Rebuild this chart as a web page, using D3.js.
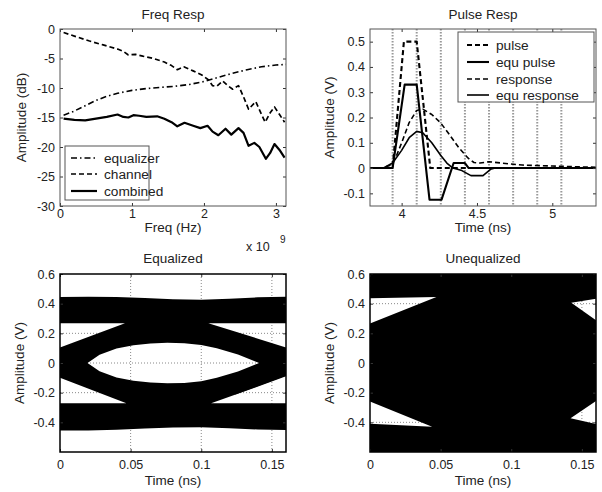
<!DOCTYPE html>
<html>
<head>
<meta charset="utf-8">
<script src="https://cdn.jsdelivr.net/npm/d3@7"></script>
<style>
body { margin: 0; background: #fff; }
svg { font-family: "Liberation Sans", Arial, sans-serif; }
</style>
</head>
<body>
<div id="chart"></div>
<script>
// ---- data ----
var freqTicks = [0, 1, 2, 3];
var dbTicks = [0, -5, -10, -15, -20, -25, -30];
var timeTicks = [4, 4.5, 5];
var voltTicks = [-0.1, 0, 0.1, 0.2, 0.3, 0.4, 0.5];
var eyeTimeTicks = [0, 0.05, 0.1, 0.15];
var eyeVoltTicks = [-0.4, -0.2, 0, 0.2, 0.4, 0.6];

// Freq Resp (GHz, dB)
var equalizer = [[0.05,-14.6],[0.2,-13.9],[0.35,-13.0],[0.5,-12.1],[0.65,-11.4],[0.8,-10.9],[1.0,-10.4],[1.2,-10.1],
  [1.4,-9.9],[1.6,-9.7],[1.8,-9.4],[2.0,-8.9],[2.2,-8.2],[2.4,-7.5],[2.6,-6.9],[2.8,-6.4],[3.0,-6.1],[3.14,-6.0]];
var channel = [[0.05,-0.6],[0.2,-1.2],[0.4,-2.0],[0.6,-2.7],[0.8,-3.4],[0.88,-3.8],[0.95,-4.4],[1.05,-4.3],[1.15,-4.6],
  [1.3,-5.0],[1.45,-5.6],[1.55,-6.2],[1.63,-6.9],[1.72,-6.4],[1.85,-7.1],[1.97,-7.8],[2.06,-8.6],[2.12,-9.6],[2.18,-9.7],
  [2.26,-8.8],[2.33,-9.6],[2.4,-10.2],[2.48,-9.6],[2.55,-11.5],[2.62,-13.6],[2.72,-12.3],[2.8,-14.5],[2.85,-15.8],
  [2.92,-14.2],[2.98,-13.2],[3.05,-14.5],[3.12,-15.8]];
var combined = [[0.05,-15.2],[0.2,-15.4],[0.35,-15.5],[0.5,-15.2],[0.65,-14.9],[0.8,-14.5],[0.88,-14.9],[0.95,-15.0],
  [1.02,-14.6],[1.1,-14.7],[1.2,-14.9],[1.35,-14.8],[1.45,-15.2],[1.55,-15.8],[1.63,-16.5],[1.73,-15.9],[1.85,-16.4],
  [1.95,-16.8],[2.05,-16.4],[2.12,-17.4],[2.2,-18.0],[2.3,-16.9],[2.38,-17.9],[2.48,-16.8],[2.55,-17.6],[2.62,-19.8],
  [2.7,-19.3],[2.77,-20.0],[2.86,-22.0],[2.92,-21.0],[2.98,-19.5],[3.05,-20.5],[3.12,-21.8]];

// Pulse Resp (ns, V)
var bitMarks = [3.94, 4.10, 4.26, 4.42, 4.58, 4.74, 4.90, 5.06];
var pulse = [[3.79,0],[3.94,0],[4.015,0.5],[4.10,0.5],[4.19,0],[5.29,0]];
var equPulse = [[3.79,0],[3.94,0],[4.02,0.33],[4.10,0.33],[4.185,-0.125],[4.265,-0.125],[4.345,0.02],[4.42,0.02],[4.445,0],[5.29,0]];
var response = [[3.79,0],[3.87,0],[3.92,0.01],[3.96,0.04],[4.0,0.1],[4.05,0.18],[4.1,0.228],[4.14,0.233],[4.2,0.212],
  [4.26,0.178],[4.32,0.13],[4.38,0.08],[4.44,0.04],[4.48,0.022],[4.52,0.02],[4.58,0.025],[4.66,0.02],[4.8,0.012],[5.0,0.008],[5.29,0.003]];
var equResponse = [[3.79,0],[3.88,0],[3.94,0.02],[4.0,0.07],[4.05,0.12],[4.1,0.145],[4.14,0.14],[4.2,0.1],[4.26,0.05],
  [4.3,0.02],[4.34,0],[4.4,-0.01],[4.46,-0.03],[4.54,-0.03],[4.59,-0.005],[4.62,0],[5.29,0]];

// Equalized eye: outer envelope and open (white) regions (ns, V)
var eqTopEdge = [[0,0.445],[0.02,0.447],[0.04,0.445],[0.06,0.438],[0.08,0.43],[0.1,0.426],[0.12,0.433],[0.14,0.443],[0.16,0.447]];
var eqBottomEdge = [[0,-0.455],[0.02,-0.455],[0.04,-0.45],[0.06,-0.442],[0.08,-0.435],[0.1,-0.433],[0.12,-0.44],[0.14,-0.448],[0.16,-0.452]];
var eqHoleUL = [[0,0.268],[0.046,0.268],[0,0.105]];
var eqHoleUR = [[0.16,0.268],[0.105,0.268],[0.16,0.105]];
var eqHoleLL = [[0,-0.272],[0.047,-0.272],[0,-0.1]];
var eqHoleLR = [[0.16,-0.272],[0.107,-0.272],[0.16,-0.09]];
var eqEyeUpper = [[0.0195,0],[0.028,0.055],[0.04,0.098],[0.052,0.12],[0.064,0.131],[0.076,0.136],[0.088,0.133],
  [0.1,0.122],[0.111,0.1],[0.126,0.057],[0.141,0]];
var eqEyeLower = [[0.0195,0],[0.028,-0.055],[0.04,-0.098],[0.052,-0.12],[0.064,-0.132],[0.076,-0.137],[0.088,-0.134],
  [0.1,-0.123],[0.111,-0.1],[0.126,-0.057],[0.141,0]];
var eqStray = [[0.124,-0.21],[0.16,-0.082]];

// Unequalized eye: open wedges
var ueHoleUL = [[0,0.437],[0.047,0.445],[0,0.266]];
var ueHoleUR = [[0.1425,0.407],[0.16,0.433],[0.16,0.289]];
var ueHoleLL = [[0,-0.26],[0.044,-0.43],[0,-0.41]];
var ueHoleLR = [[0.142,-0.372],[0.16,-0.256],[0.16,-0.411]];

// ---- drawing ----
var svg = d3.select("#chart").append("svg")
	.attr("width", 602)
	.attr("height", 492);

var dashed = "5,3";
var dashDot = "6,3,1.5,3";
var clipId = 0;

function panel(box, xDom, yDom) {
	var w = box.right - box.left, h = box.bottom - box.top;
	var g = svg.append("g").attr("transform", "translate(" + box.left + "," + box.top + ")");
	var id = "clip" + (clipId++);
	g.append("clipPath").attr("id", id).append("rect").attr("width", w).attr("height", h);
	var x = d3.scaleLinear().domain(xDom).range([0, w]);
	var y = d3.scaleLinear().domain(yDom).range([h, 0]);
	var plot = g.append("g").attr("clip-path", "url(#" + id + ")");
	return { g: g, plot: plot, x: x, y: y, w: w, h: h, box: box };
}

function lineGen(p) {
	return d3.line().x(function (d) { return p.x(d[0]); }).y(function (d) { return p.y(d[1]); });
}

function drawLine(p, data, dash, width) {
	p.plot.append("path")
		.attr("d", lineGen(p)(data))
		.attr("fill", "none")
		.attr("stroke", "#000")
		.attr("stroke-width", width)
		.attr("stroke-dasharray", dash)
		.attr("stroke-linejoin", "round");
}

function grid(p, xTicks, yTicks) {
	p.plot.selectAll(".gx").data(xTicks).enter().append("line")
		.attr("x1", function (d) { return p.x(d); }).attr("x2", function (d) { return p.x(d); })
		.attr("y1", 0).attr("y2", p.h)
		.attr("stroke", "#888").attr("stroke-width", 1).attr("stroke-dasharray", "1,2");
	p.plot.selectAll(".gy").data(yTicks).enter().append("line")
		.attr("y1", function (d) { return p.y(d); }).attr("y2", function (d) { return p.y(d); })
		.attr("x1", 0).attr("x2", p.w)
		.attr("stroke", "#888").attr("stroke-width", 1).attr("stroke-dasharray", "1,2");
}

function styleAxis(g) {
	g.select(".domain").remove();
	g.attr("font-size", 12.5).attr("font-family", null);
	g.selectAll(".tick line").attr("stroke", "#333");
	g.selectAll(".tick text").attr("fill", "#222");
}

function finish(p, xTicks, yTicks, xPad, boxWidth) {
	var fmt = function (d) { return String(d); };
	var none = function () { return ""; };
	p.g.append("g").attr("transform", "translate(0," + p.h + ")")
		.call(d3.axisBottom(p.x).tickValues(xTicks).tickSizeInner(-3).tickSizeOuter(0).tickPadding(xPad).tickFormat(fmt))
		.call(styleAxis);
	p.g.append("g")
		.call(d3.axisTop(p.x).tickValues(xTicks).tickSizeInner(-3).tickSizeOuter(0).tickFormat(none))
		.call(styleAxis);
	p.g.append("g")
		.call(d3.axisLeft(p.y).tickValues(yTicks).tickSizeInner(-3).tickSizeOuter(0).tickPadding(5).tickFormat(fmt))
		.call(styleAxis);
	p.g.append("g").attr("transform", "translate(" + p.w + ",0)")
		.call(d3.axisRight(p.y).tickValues(yTicks).tickSizeInner(-3).tickSizeOuter(0).tickFormat(none))
		.call(styleAxis);
	p.g.append("rect")
		.attr("width", p.w).attr("height", p.h)
		.attr("fill", "none").attr("stroke", boxWidth > 1 ? "#000" : "#555").attr("stroke-width", boxWidth);
}

function labels(p, title, titleY, xlabel, xlabelY, ylabel, ylabelX) {
	var cx = (p.box.left + p.box.right) / 2;
	var cy = (p.box.top + p.box.bottom) / 2;
	svg.append("text").attr("x", cx).attr("y", titleY).attr("text-anchor", "middle")
		.attr("font-size", 13.5).attr("fill", "#222").text(title);
	svg.append("text").attr("x", cx).attr("y", xlabelY).attr("text-anchor", "middle")
		.attr("font-size", 13.5).attr("fill", "#222").text(xlabel);
	svg.append("text").attr("transform", "translate(" + ylabelX + "," + cy + ") rotate(-90)")
		.attr("text-anchor", "middle").attr("font-size", 13.5).attr("fill", "#222").text(ylabel);
}

function legend(box, entries, lineX, textX, rowY) {
	svg.append("rect")
		.attr("x", box.x).attr("y", box.y).attr("width", box.w).attr("height", box.h)
		.attr("fill", "#fff").attr("stroke", "#555").attr("stroke-width", 1);
	entries.forEach(function (e, i) {
		var yy = rowY[i];
		svg.append("line")
			.attr("x1", lineX[0]).attr("x2", lineX[1]).attr("y1", yy).attr("y2", yy)
			.attr("stroke", "#000").attr("stroke-width", e.width).attr("stroke-dasharray", e.dash);
		svg.append("text").attr("x", textX).attr("y", yy + 4.5)
			.attr("font-size", 13.7).attr("fill", "#222").text(e.label);
	});
}

// Freq Resp
var pf = panel({ left: 60, right: 286, top: 29, bottom: 206 }, [0, 3.14], [-30, 0]);
drawLine(pf, channel, dashed, 1.7);
drawLine(pf, equalizer, dashDot, 1.6);
drawLine(pf, combined, null, 2.2);
finish(pf, freqTicks, dbTicks, 3, 1);
labels(pf, "Freq Resp", 18.5, "Freq (Hz)", 231.5, "Amplitude (dB)", 25.5);
svg.append("text").attr("x", 246).attr("y", 251).attr("font-size", 12.5).attr("fill", "#222").text("x 10");
svg.append("text").attr("x", 280).attr("y", 243).attr("font-size", 10).attr("fill", "#222").text("9");
legend({ x: 65, y: 146, w: 84, h: 54 }, [
	{ label: "equalizer", dash: dashDot, width: 1.6 },
	{ label: "channel", dash: dashed, width: 1.7 },
	{ label: "combined", dash: null, width: 2.2 }
], [71, 97], 104, [158, 174, 191]);

// Pulse Resp
var pp = panel({ left: 370, right: 596, top: 29, bottom: 206 }, [3.79, 5.29], [-0.15, 0.55]);
pp.plot.selectAll(".bit").data(bitMarks).enter().append("line")
	.attr("x1", function (d) { return pp.x(d); }).attr("x2", function (d) { return pp.x(d); })
	.attr("y1", 0).attr("y2", pp.h)
	.attr("stroke", "#999").attr("stroke-width", 2).attr("stroke-dasharray", "1.5,1.5");
drawLine(pp, response, dashed, 1.6);
drawLine(pp, equResponse, null, 1.6);
drawLine(pp, pulse, dashed, 2.1);
drawLine(pp, equPulse, null, 2.1);
finish(pp, timeTicks, voltTicks, 3, 1);
labels(pp, "Pulse Resp", 18.5, "Time (ns)", 231.5, "Amplitude (V)", 334);
legend({ x: 458, y: 32, w: 136, h: 70 }, [
	{ label: "pulse", dash: dashed, width: 2.1 },
	{ label: "equ pulse", dash: null, width: 2.1 },
	{ label: "response", dash: dashed, width: 1.6 },
	{ label: "equ response", dash: null, width: 1.6 }
], [467, 489], 496, [45, 62, 79, 95]);

// Equalized eye
var pe = panel({ left: 60, right: 286, top: 274, bottom: 452 }, [0, 0.16], [-0.6, 0.6]);
grid(pe, [0.05, 0.1, 0.15], [-0.4, -0.2, 0, 0.2, 0.4]);
var le = lineGen(pe);
var eqOuter = eqTopEdge.concat(eqBottomEdge.slice().reverse());
var eqEye = eqEyeUpper.concat(eqEyeLower.slice().reverse());
pe.plot.append("path")
	.attr("d", [eqOuter, eqHoleUL, eqHoleUR, eqHoleLL, eqHoleLR, eqEye].map(function (d) { return le(d) + "Z"; }).join(" "))
	.attr("fill", "#000").attr("fill-rule", "evenodd");
drawLine(pe, eqStray, null, 0.8);
finish(pe, eyeTimeTicks, eyeVoltTicks, 8, 1.5);
labels(pe, "Equalized", 262.5, "Time (ns)", 485, "Amplitude (V)", 24);

// Unequalized eye
var pu = panel({ left: 370, right: 596, top: 274, bottom: 452 }, [0, 0.16], [-0.6, 0.6]);
grid(pu, [0.05, 0.1, 0.15], [-0.4, -0.2, 0, 0.2, 0.4]);
var lu = lineGen(pu);
var xd = pu.x.domain(), yd = pu.y.domain();
var ueOuter = [[xd[0], yd[0]], [xd[1], yd[0]], [xd[1], yd[1]], [xd[0], yd[1]]];
pu.plot.append("path")
	.attr("d", [ueOuter, ueHoleUL, ueHoleUR, ueHoleLL, ueHoleLR].map(function (d) { return lu(d) + "Z"; }).join(" "))
	.attr("fill", "#000").attr("fill-rule", "evenodd");
finish(pu, eyeTimeTicks, eyeVoltTicks, 8, 1.5);
labels(pu, "Unequalized", 262.5, "Time (ns)", 485, "Amplitude (V)", 334);
</script>
</body>
</html>
